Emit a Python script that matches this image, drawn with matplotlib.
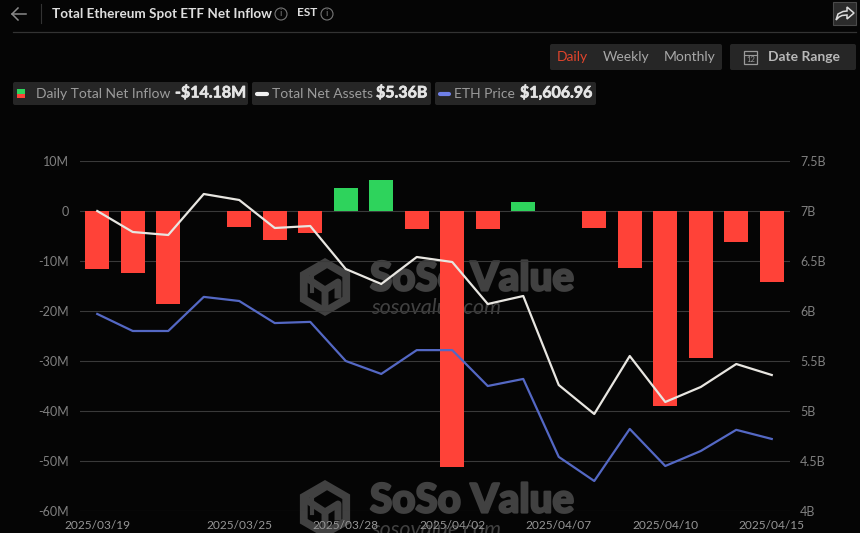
import matplotlib
matplotlib.use("Agg")
import matplotlib.pyplot as plt
import matplotlib.patheffects as pe
from matplotlib.patches import FancyBboxPatch, RegularPolygon, Rectangle, Circle, Polygon
from matplotlib.lines import Line2D

plt.rcParams['font.family'] = ['Lato', 'DejaVu Sans']

dates = ["2025/03/19","2025/03/20","2025/03/21","2025/03/24","2025/03/25","2025/03/26","2025/03/27",
         "2025/03/28","2025/03/31","2025/04/01","2025/04/02","2025/04/03","2025/04/04","2025/04/07",
         "2025/04/08","2025/04/09","2025/04/10","2025/04/11","2025/04/14","2025/04/15"]
net_inflow = [-11.5,-12.4,-18.6,0,-3.2,-5.8,-4.3,4.7,6.3,-3.6,-51.2,-3.6,1.9,0,-3.3,-11.3,-39.0,-29.3,-6.1,-14.18]
net_assets = [7.0,6.79,6.76,7.17,7.11,6.83,6.85,6.42,6.27,6.54,6.49,6.07,6.15,5.26,4.97,5.55,5.09,5.24,5.47,5.36]
eth_price = [2032,1974,1974,2090,2076,2001,2005,1872,1828,1909,1909,1787,1811,1546,1464,1641,1515,1566,1638,1606.96]
left_ticks = [10,0,-10,-20,-30,-40,-50,-60]
left_labels = ["10M","0","-10M","-20M","-30M","-40M","-50M","-60M"]
right_ticks = [7.5,7,6.5,6,5.5,5,4.5,4]
right_labels = ["7.5B","7B","6.5B","6B","5.5B","5B","4.5B","4B"]
shown_dates = [0,4,7,10,13,16,19]

W, H = 860, 533
BG = "#050505"; GRID = "#3a3a3a"; TICK = "#808080"; XTICK = "#969696"
fig = plt.figure(figsize=(W/100, H/100), dpi=100, facecolor=BG)

def px_axes(l, t, r, b):
    return [l/W, 1-b/H, (r-l)/W, (b-t)/H]

ax = fig.add_axes(px_axes(79.5, 161, 789.5, 511), facecolor="none", zorder=3)
x = list(range(len(dates)))
colors = ["#2ed35c" if v > 0 else "#ff4238" for v in net_inflow]
ax.bar(x, net_inflow, width=0.69, color=colors, zorder=3)
ax.set_xlim(-0.5, 19.5)
ax.set_ylim(-60, 10)
ax.set_yticks(left_ticks, left_labels)
ax.set_xticks(shown_dates, [dates[i] for i in shown_dates])
ax.grid(axis="y", color=GRID, lw=0.8, zorder=0)
ax.tick_params(axis="y", length=0, colors=TICK, labelsize=9, pad=7.5)
ax.tick_params(axis="x", length=0, colors=XTICK, labelsize=8.6, pad=6.5)
for s in ax.spines.values():
    s.set_visible(False)

ax2 = ax.twinx()
ax2.set_ylim(4, 7.5)
ax2.set_yticks(right_ticks, right_labels)
ax2.tick_params(axis="y", length=0, colors=TICK, labelsize=9, pad=7.5)
ax2.plot(x, net_assets, color="#e8e6e1", lw=1.6, zorder=5)
for s in ax2.spines.values():
    s.set_visible(False)

ax3 = ax.twinx()
ax3.set_ylim(1362, 2552)
ax3.axis("off")
ax3.plot(x, eth_price, color="#5468c4", lw=1.6, zorder=5)

# pixel-space overlays: watermark beneath the chart, UI chrome around it
bgax = fig.add_axes([0, 0, 1, 1], zorder=1, facecolor="none")
bgax.set_xlim(0, W); bgax.set_ylim(H, 0); bgax.axis("off")
WM = "#414141"
def watermark(y0):
    cy = y0 + 49
    bgax.add_patch(RegularPolygon((325, cy), 6, radius=29, fc=WM, ec="none"))
    bgax.add_patch(RegularPolygon((325, cy), 6, radius=20, fc=BG, ec="none"))
    bgax.plot([325, 338, 338], [cy+3, cy-5, cy+8], color=WM, lw=5)
    bgax.plot([308, 325, 325], [cy-8, cy+3, cy+20], color=WM, lw=5)
    bgax.plot([325, 312, 312], [cy-20, cy-12, cy+4], color=WM, lw=3)
    bgax.text(370, y0+41, "SoSo Value", color=WM, fontsize=29, fontweight="black", va="center", ha="left",
              path_effects=[pe.withStroke(linewidth=1.6, foreground=WM)])
    bgax.text(371, y0+70, "sosovalue.com", color=WM, fontsize=15.5, style="italic", va="center", ha="left")
watermark(238)
watermark(460)

ui = fig.add_axes([0, 0, 1, 1], zorder=6, facecolor="none")
ui.set_xlim(0, W); ui.set_ylim(H, 0); ui.axis("off")

def chip(l, t, r, b, color="#262626"):
    ui.add_patch(FancyBboxPatch((l+2, t+2), r-l-4, b-t-4, boxstyle="round,pad=2", fc=color, ec="none"))

# header
ui.plot([12, 26], [14, 14], color="#8a8a8a", lw=1.1)
ui.plot([18, 12, 18], [8, 14, 20], color="#8a8a8a", lw=1.1)
ui.plot([40.5, 40.5], [4, 23], color="#333333", lw=0.8)
ui.plot([13, 856], [31.5, 31.5], color="#333333", lw=0.9)
ui.text(52, 13.5, "Total Ethereum Spot ETF Net Inflow", color="#dedede", fontsize=9.7, fontweight="bold", va="center")
ui.text(297, 13, "EST", color="#dedede", fontsize=8.5, fontweight="bold", va="center")
for cx in (281, 327):
    ui.add_patch(Circle((cx, 14), 6, fill=False, ec="#777777", lw=0.8))
    ui.text(cx, 14, "i", color="#777777", fontsize=7, ha="center", va="center")
ui.add_patch(Rectangle((833, 2), 23, 23, fc="#2b2b2b", ec="#4a4a4a", lw=0.8))
ui.add_patch(Polygon([(836, 20), (838, 14), (843, 11.5), (847, 11), (847, 7), (854, 13),
                      (847, 19), (847, 15), (842, 15.5), (839, 17)],
                     closed=True, fc="#2b2b2b", ec="#dddddd", lw=1.1))

# period buttons
chip(550, 44, 722, 70)
ui.text(572.5, 57, "Daily", color="#e0442c", fontsize=10, ha="center", va="center")
ui.text(626, 57, "Weekly", color="#a8a8a8", fontsize=10, ha="center", va="center")
ui.text(689.5, 57, "Monthly", color="#a8a8a8", fontsize=10, ha="center", va="center")
chip(730, 44, 856, 70)
ui.add_patch(Rectangle((744, 51), 13, 13, fill=False, ec="#9a9a9a", lw=0.9))
ui.plot([744, 757], [55, 55], color="#9a9a9a", lw=0.8)
ui.text(750.5, 60, "12", color="#9a9a9a", fontsize=5.5, ha="center", va="center")
ui.text(804, 57, "Date Range", color="#b8b8b8", fontsize=10, fontweight="bold", ha="center", va="center")

# legend chips
VAL = [pe.withStroke(linewidth=0.5, foreground="#e4e4e4")]
chip(13, 82, 248, 105)
ui.add_patch(Rectangle((17, 89), 8, 4.5, fc="#2ed35c", ec="none"))
ui.add_patch(Rectangle((17, 93.5), 8, 4.5, fc="#ff4238", ec="none"))
ui.text(36, 93.5, "Daily Total Net Inflow", color="#9c9c9c", fontsize=10, va="center")
ui.text(175, 93, "-$14.18M", color="#e4e4e4", fontsize=11.5, fontweight="bold", va="center", path_effects=VAL)
chip(252, 82, 431, 105)
ui.add_line(Line2D([257, 267], [93.5, 93.5], color="#f0f0f0", lw=3, solid_capstyle="round"))
ui.text(272, 93.5, "Total Net Assets", color="#9c9c9c", fontsize=10, va="center")
ui.text(376, 93, "$5.36B", color="#e4e4e4", fontsize=11.5, fontweight="bold", va="center", path_effects=VAL)
chip(435, 82, 596, 105)
ui.add_line(Line2D([440, 449], [93.5, 93.5], color="#6f80e8", lw=3, solid_capstyle="round"))
ui.text(454, 93.5, "ETH Price", color="#9c9c9c", fontsize=10, va="center")
ui.text(520, 93, "$1,606.96", color="#e4e4e4", fontsize=11.5, fontweight="bold", va="center", path_effects=VAL)

fig.savefig("out.png", dpi=100, facecolor=BG)
